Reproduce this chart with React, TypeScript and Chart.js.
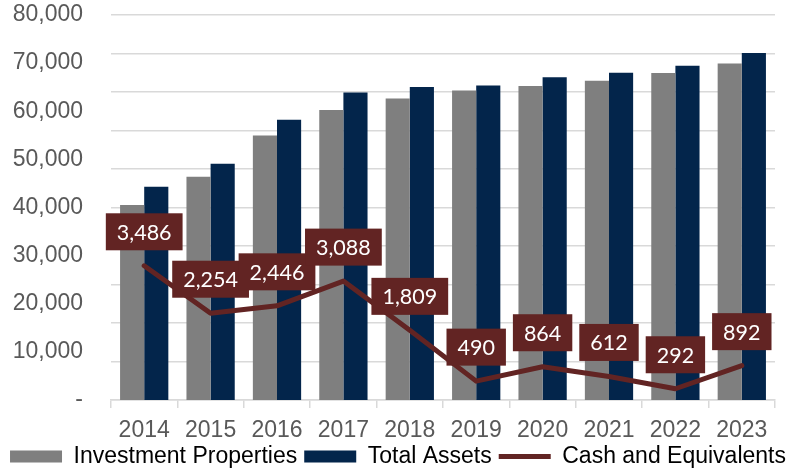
import React, { useEffect, useRef } from "react";
import { Chart, registerables } from "chart.js";

Chart.register(...registerables);

const years = ["2014", "2015", "2016", "2017", "2018", "2019", "2020", "2021", "2022", "2023"];
const investmentProperties = [40520, 46400, 54980, 60260, 62670, 64330, 65250, 66350, 67950, 69940];
const totalAssets = [44330, 49100, 58250, 63920, 65040, 65370, 67040, 68010, 69470, 72110];
const cashAndEquivalents = [3486, 2254, 2446, 3088, 1809, 490, 864, 612, 292, 892];
const seriesNames = ["Investment Properties", "Total Assets", "Cash and Equivalents"];

const GRAY = "#7f7f7f";
const NAVY = "#03254b";
const RED = "#622423";
const TEXT = "#595959";
const GRID = "#d9d9d9";
const FONT = "'Liberation Sans', Arial, sans-serif";

const fmt = (v: number) => v.toLocaleString("en-US");

const cashLabelPlugin = {
  id: "cashLabels",
  afterDatasetsDraw(chart: any) {
    const meta = chart.getDatasetMeta(2);
    const ctx = chart.ctx;
    ctx.save();
    ctx.font = "21.5px Lato, 'Noto Sans', sans-serif";
    ctx.textAlign = "center";
    ctx.textBaseline = "middle";
    meta.data.forEach((pt: any, i: number) => {
      const text = fmt(cashAndEquivalents[i]);
      const w = ctx.measureText(text).width + 22;
      const h = 37;
      const cx = pt.x;
      const cy = pt.y - 34;
      ctx.fillStyle = RED;
      ctx.fillRect(cx - w / 2, cy - h / 2, w, h);
      ctx.fillStyle = "#ffffff";
      ctx.fillText(text, cx, cy + 1);
    });
    ctx.restore();
  },
};

export default function App() {
  const ref = useRef<HTMLCanvasElement | null>(null);

  useEffect(() => {
    if (!ref.current) return;
    const chart = new Chart(ref.current, {
      type: "bar",
      data: {
        labels: years,
        datasets: [
          {
            type: "bar",
            label: seriesNames[0],
            data: investmentProperties,
            backgroundColor: GRAY,
            categoryPercentage: 0.727,
            barPercentage: 1,
            yAxisID: "y",
            order: 1,
          },
          {
            type: "bar",
            label: seriesNames[1],
            data: totalAssets,
            backgroundColor: NAVY,
            categoryPercentage: 0.727,
            barPercentage: 1,
            yAxisID: "y",
            order: 1,
          },
          {
            type: "line",
            label: seriesNames[2],
            data: cashAndEquivalents,
            borderColor: RED,
            backgroundColor: RED,
            borderWidth: 5,
            pointRadius: 0,
            tension: 0,
            borderCapStyle: "round",
            borderJoinStyle: "round",
            yAxisID: "y2",
            order: 0,
          } as any,
        ],
      },
      options: {
        animation: false,
        responsive: true,
        maintainAspectRatio: false,
        layout: { padding: { top: 15, left: 0, right: 0, bottom: 0 } },
        scales: {
          x: {
            grid: {
              display: true,
              drawOnChartArea: false,
              drawTicks: true,
              tickLength: 8,
              color: GRID,
              lineWidth: 1.5,
              offset: true,
            },
            border: { color: GRID, width: 1.5 },
            ticks: { color: TEXT, font: { family: FONT, size: 23 }, padding: 9 },
            afterFit: (s: any) => {
              s.height = 38;
            },
          },
          y: {
            position: "left",
            min: 0,
            max: 80000,
            ticks: {
              stepSize: 10000,
              color: TEXT,
              font: { family: FONT, size: 23 },
              padding: 28,
              callback: (v: any) => (Number(v) === 0 ? "-" : fmt(Number(v))),
            },
            grid: { display: false, drawTicks: false },
            border: { display: false },
            afterFit: (s: any) => {
              s.width = 111;
              s.paddingTop = 14;
              s.paddingBottom = 14;
            },
          },
          y2: {
            position: "right",
            min: 0,
            max: 10000,
            ticks: { display: false, stepSize: 1000 },
            grid: { color: GRID, lineWidth: 1.5, drawTicks: false },
            border: { display: false },
            afterFit: (s: any) => {
              s.width = 21;
            },
          },
        },
        plugins: {
          tooltip: { enabled: false },
          legend: {
            position: "bottom",
            labels: {
              color: TEXT,
              font: { family: FONT, size: 23 },
              usePointStyle: true,
              pointStyleWidth: 52,
              boxHeight: 12,
              padding: 7,
              generateLabels: () => [
                { text: seriesNames[0], fillStyle: GRAY, strokeStyle: GRAY, lineWidth: 0, pointStyle: "rect", datasetIndex: 0, hidden: false },
                { text: seriesNames[1], fillStyle: NAVY, strokeStyle: NAVY, lineWidth: 0, pointStyle: "rect", datasetIndex: 1, hidden: false },
                { text: seriesNames[2], fillStyle: RED, strokeStyle: RED, lineWidth: 5, pointStyle: "line", datasetIndex: 2, hidden: false },
              ] as any,
            },
          },
        },
      },
      plugins: [cashLabelPlugin],
    } as any);
    return () => chart.destroy();
  }, []);

  return (
    <div style={{ position: "fixed", left: 0, top: 0, width: 796, height: 478, background: "#ffffff" }}>
      <canvas ref={ref} />
    </div>
  );
}
